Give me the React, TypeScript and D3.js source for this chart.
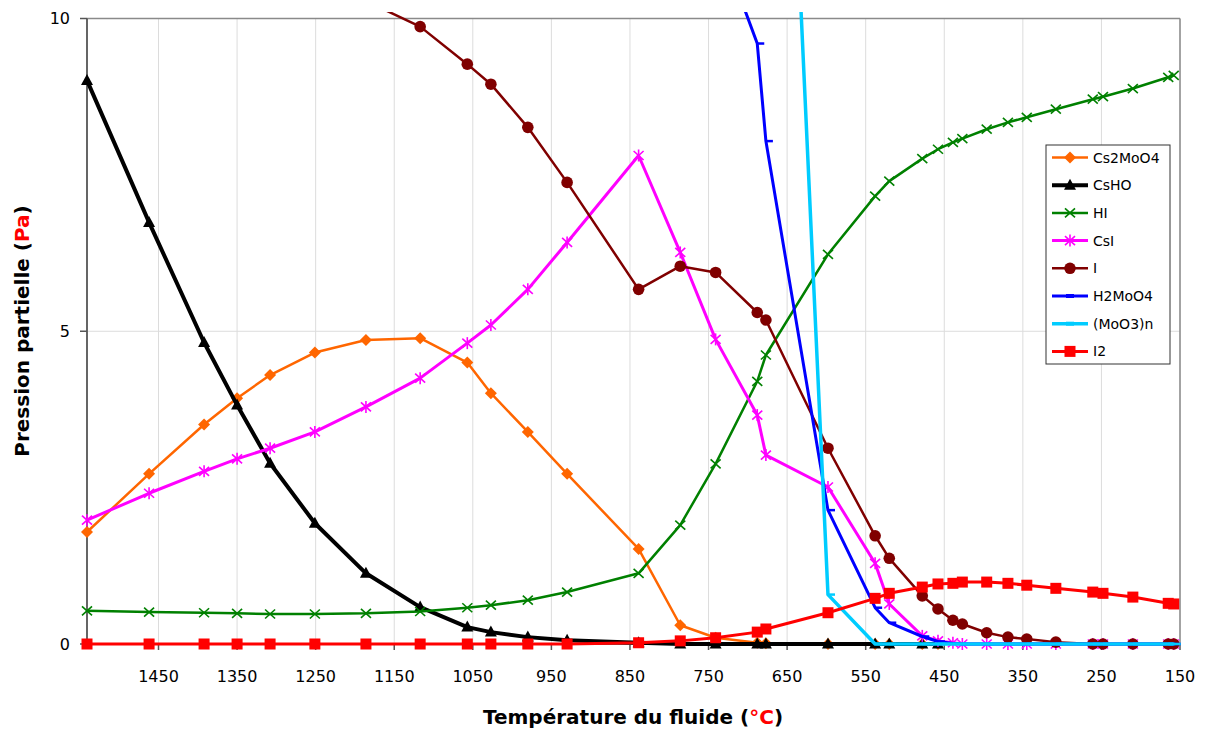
import React from 'react';
import * as d3 from 'd3';

const temps = [1541, 1462, 1392, 1350, 1308, 1251, 1186, 1117, 1057, 1027, 980, 930, 839, 786, 741, 688, 677, 598, 538, 520, 478, 458, 439, 427, 396, 369, 345, 308, 261, 248, 210, 165, 158];

const cs2moo4 = [1.79, 2.72, 3.51, 3.93, 4.30, 4.66, 4.86, 4.89, 4.50, 4.01, 3.39, 2.72, 1.52, 0.30, 0.10, 0.02, 0.01, 0, 0, 0, 0, 0, null, null, null, null, null, null, null, null, null, null, null];
const csho = [9.01, 6.74, 4.82, 3.82, 2.89, 1.93, 1.13, 0.59, 0.27, 0.19, 0.11, 0.06, 0.02, 0, 0, 0, 0, 0, 0, 0, 0, 0, null, null, null, null, null, null, null, null, null, null, null];
const hi = [0.53, 0.51, 0.50, 0.49, 0.48, 0.48, 0.49, 0.52, 0.58, 0.62, 0.70, 0.83, 1.13, 1.90, 2.88, 4.20, 4.62, 6.23, 7.16, 7.40, 7.76, 7.91, 8.02, 8.08, 8.23, 8.34, 8.42, 8.55, 8.71, 8.75, 8.88, 9.06, 9.09];
const csi = [1.98, 2.41, 2.76, 2.96, 3.13, 3.39, 3.79, 4.25, 4.81, 5.10, 5.67, 6.42, 7.81, 6.26, 4.87, 3.66, 3.02, 2.51, 1.29, 0.64, 0.13, 0.05, 0.02, 0, 0, 0, 0, 0, 0, 0, 0, 0, 0];
const iodine = [null, null, null, null, null, null, 10.28, 9.87, 9.27, 8.95, 8.26, 7.38, 5.67, 6.04, 5.94, 5.30, 5.18, 3.13, 1.73, 1.37, 0.77, 0.56, 0.38, 0.32, 0.18, 0.11, 0.08, 0.03, 0, 0, 0, 0, 0];
const h2moo4 = [null, null, null, null, null, null, null, null, null, null, null, null, null, null, 11.4, 9.60, 8.04, 2.14, 0.58, 0.34, 0.12, 0.04, 0.01, 0, 0, 0, 0, 0, 0, 0, 0, 0, 0];
const moo3n = [null, null, null, null, null, null, null, null, null, null, null, null, null, null, null, null, 22.3, 0.79, 0, 0, 0, 0, 0, 0, 0, 0, 0, 0, 0, 0, 0, 0, 0];
const i2 = [0, 0, 0, 0, 0, 0, 0, 0, 0, 0, 0, 0, 0.02, 0.05, 0.10, 0.19, 0.24, 0.50, 0.73, 0.81, 0.91, 0.96, 0.97, 0.99, 0.99, 0.97, 0.94, 0.89, 0.83, 0.81, 0.75, 0.65, 0.64];

const seriesNames = ['Cs2MoO4', 'CsHO', 'HI', 'CsI', 'I', 'H2MoO4', '(MoO3)n', 'I2'];
const xTicks = [1450, 1350, 1250, 1150, 1050, 950, 850, 750, 650, 550, 450, 350, 250, 150];
const yTicks = [0, 5, 10];

type Marker = 'diamond' | 'triangle' | 'x' | 'star' | 'circle' | 'dash' | 'square';

const styles: { color: string; width: number; marker: Marker }[] = [
  { color: '#FF6600', width: 2.5, marker: 'diamond' },
  { color: '#000000', width: 4, marker: 'triangle' },
  { color: '#008000', width: 2.5, marker: 'x' },
  { color: '#FF00FF', width: 3, marker: 'star' },
  { color: '#800000', width: 2.5, marker: 'circle' },
  { color: '#0000FF', width: 3, marker: 'dash' },
  { color: '#00CCFF', width: 3.5, marker: 'dash' },
  { color: '#FF0000', width: 3, marker: 'square' },
];

const seriesValues = [cs2moo4, csho, hi, csi, iodine, h2moo4, moo3n, i2];

function MarkerShape({ type, cx, cy, color, legend }: { type: Marker; cx: number; cy: number; color: string; legend?: boolean }) {
  switch (type) {
    case 'diamond':
      return <polygon points={`${cx},${cy - 6} ${cx + 6},${cy} ${cx},${cy + 6} ${cx - 6},${cy}`} fill={color} />;
    case 'triangle':
      return <polygon points={`${cx},${cy - 6.5} ${cx + 6},${cy + 4.5} ${cx - 6},${cy + 4.5}`} fill={color} />;
    case 'x':
      return (
        <g stroke={color} strokeWidth={1.6}>
          <line x1={cx - 5} y1={cy - 4.5} x2={cx + 5} y2={cy + 4.5} />
          <line x1={cx - 5} y1={cy + 4.5} x2={cx + 5} y2={cy - 4.5} />
        </g>
      );
    case 'star':
      return (
        <g stroke={color} strokeWidth={1.6}>
          <line x1={cx - 5} y1={cy - 4.5} x2={cx + 5} y2={cy + 4.5} />
          <line x1={cx - 5} y1={cy + 4.5} x2={cx + 5} y2={cy - 4.5} />
          <line x1={cx} y1={cy - 6} x2={cx} y2={cy + 6} />
        </g>
      );
    case 'circle':
      return <circle cx={cx} cy={cy} r={5.8} fill={color} />;
    case 'dash':
      return legend ? (
        <line x1={cx - 4} x2={cx + 4} y1={cy} y2={cy} stroke={color} strokeWidth={4} />
      ) : (
        <line x1={cx} x2={cx + 7} y1={cy} y2={cy} stroke={color} strokeWidth={2.5} />
      );
    case 'square':
      return <rect x={cx - 5.5} y={cy - 5.5} width={11} height={11} fill={color} />;
  }
  return null;
}

export default function App() {
  const left = 87, right = 1180, top = 18.5, bottom = 644;
  const x = d3.scaleLinear().domain([1541, 150]).range([left, right]);
  const y = d3.scaleLinear().domain([0, 10]).range([bottom, top]);
  const line = d3.line<[number, number]>().x((d) => x(d[0])).y((d) => y(d[1]));

  const series = seriesNames.map((name, i) => {
    const pts: [number, number][] = [];
    seriesValues[i].forEach((v, j) => {
      if (v !== null && v !== undefined) pts.push([temps[j], v as number]);
    });
    return { name, pts, ...styles[i] };
  });

  const font = "'DejaVu Sans', Verdana, sans-serif";

  return (
    <svg width={1206} height={731} style={{ position: 'absolute', left: 0, top: 0, background: '#fff' }} fontFamily={font}>
      <defs>
        <clipPath id="plotClip">
          <rect x={60} y={12} width={1140} height={660} />
        </clipPath>
      </defs>
      {/* gridlines */}
      {xTicks.map((t) => (
        <line key={'gx' + t} x1={x(t)} x2={x(t)} y1={top} y2={bottom} stroke="#dcdcdc" strokeWidth={1} />
      ))}
      {yTicks.filter((t) => t > 0 && t < 10).map((t) => (
        <line key={'gy' + t} x1={left} x2={right} y1={y(t)} y2={y(t)} stroke="#dcdcdc" strokeWidth={1} />
      ))}
      {/* frame */}
      <line x1={left} x2={right} y1={top} y2={top} stroke="#8a8a8a" strokeWidth={1.5} />
      <line x1={right} x2={right} y1={top} y2={bottom} stroke="#8a8a8a" strokeWidth={1.5} />
      {/* axes */}
      <line x1={left} x2={left} y1={top} y2={bottom} stroke="#555" strokeWidth={1.8} />
      <line x1={left} x2={right} y1={bottom} y2={bottom} stroke="#555" strokeWidth={1.8} />
      {yTicks.map((t) => (
        <g key={'yt' + t}>
          <line x1={left - 7} x2={left} y1={y(t)} y2={y(t)} stroke="#555" strokeWidth={1.5} />
          <text x={70} y={y(t)} textAnchor="end" dominantBaseline="central" fontSize={16} fill="#000">{t}</text>
        </g>
      ))}
      {xTicks.map((t) => (
        <g key={'xt' + t}>
          <line x1={x(t)} x2={x(t)} y1={bottom} y2={bottom + 6} stroke="#555" strokeWidth={1.5} />
          <text x={x(t)} y={676} textAnchor="middle" dominantBaseline="central" fontSize={16} fill="#000">{t}</text>
        </g>
      ))}
      {/* series */}
      <g clipPath="url(#plotClip)">
        {series.map((s) => (
          <g key={s.name}>
            <path d={line(s.pts) || ''} fill="none" stroke={s.color} strokeWidth={s.width} strokeLinejoin="round" />
            {s.pts.map((p, k) => (
              <MarkerShape key={k} type={s.marker} cx={x(p[0])} cy={y(p[1])} color={s.color} />
            ))}
          </g>
        ))}
      </g>
      {/* axis titles */}
      <text x={633} y={717} textAnchor="middle" dominantBaseline="central" fontSize={20} fontWeight="bold" fill="#000">
        Température du fluide (<tspan fill="#FF0000">°C</tspan>)
      </text>
      <text transform="translate(22,331) rotate(-90)" textAnchor="middle" dominantBaseline="central" fontSize={20} fontWeight="bold" fill="#000">
        Pression partielle (<tspan fill="#FF0000">Pa</tspan>)
      </text>
      {/* legend */}
      <g>
        <rect x={1046} y={145} width={124} height={219} fill="#fff" stroke="#333" strokeWidth={1} />
        {series.map((s, i) => {
          const ly = 157.5 + i * 27.7;
          return (
            <g key={'lg' + s.name}>
              <line x1={1052} x2={1088} y1={ly} y2={ly} stroke={s.color} strokeWidth={s.width} />
              <MarkerShape type={s.marker} cx={1070} cy={ly} color={s.color} legend />
              <text x={1093} y={ly} dominantBaseline="central" fontSize={14} fill="#000">{s.name}</text>
            </g>
          );
        })}
      </g>
    </svg>
  );
}
